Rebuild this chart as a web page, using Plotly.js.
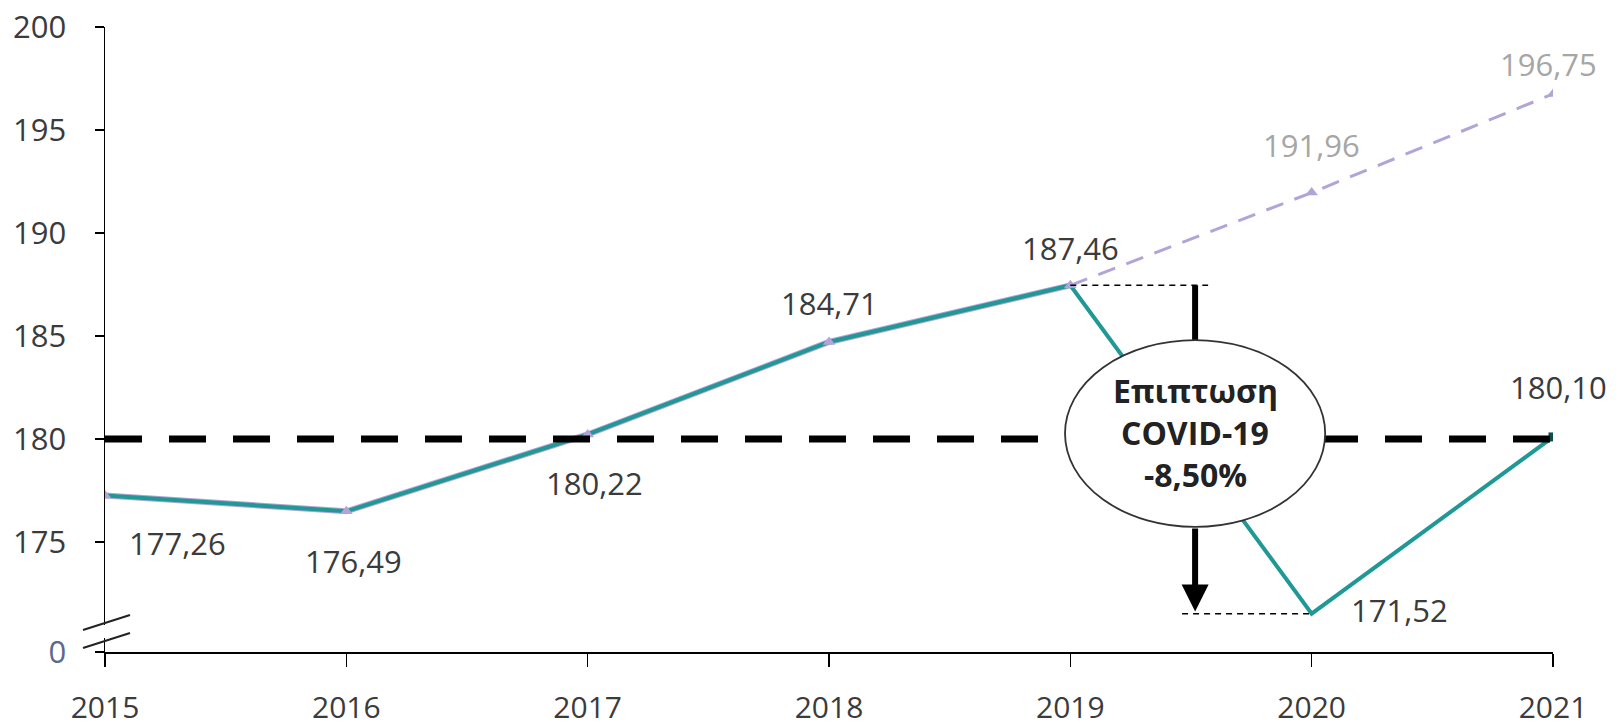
<!DOCTYPE html>
<html><head><meta charset="utf-8">
<script src="https://cdn.plot.ly/plotly-3.0.1.min.js"></script>
<style>html,body{margin:0;padding:0;background:#fff}#chart{width:1623px;height:725px}</style>
</head><body><div id="chart"></div>
<script>
// ---- data ----
const years = [2015, 2016, 2017, 2018, 2019, 2020, 2021];
const actual = [177.26, 176.49, 180.22, 184.71, 187.46, 171.52, 180.10];
const trend = [177.26, 176.49, 180.22, 184.71, 187.46, 191.96, 196.75]; // pre-COVID trajectory
const referenceLevel = 180;
const yTickVals = [175, 180, 185, 190, 195, 200];
const yTickText = ['175', '180', '185', '190', '195', '200'];
const axisBottom = 169.66;           // axis break: bottom of axis shown as "0"
const axisBottomLabel = '0';
const impactLines = ['Επιπτωση', 'COVID-19', '-8,50%'];
const impactFrom = 187.46, impactTo = 171.52;

// ---- styles ----
const TEAL = '#1f9896', LAV = '#b3a4d8', TXT = '#3b3b3b', GREY = '#a6a6a6';
const FONT = 'Open Sans, Noto Sans, sans-serif';
const fmt = v => v.toFixed(2).replace('.', ',');
// label offsets (px) for actual and trend labels
const actualShift = [[72, -48], [7, -50], [7, -49], [0, 39], [0, 37], [88, 4], [5, 50]];
const trendShift = {5: [0, 48], 6: [-5, 30]};

const traces = [
  {x: years.slice(0, 5), y: trend.slice(0, 5), mode: 'lines', line: {color: LAV, width: 6}, hoverinfo: 'skip'},
  {x: years.slice(4), y: trend.slice(4), mode: 'lines', line: {color: LAV, width: 3, dash: '18px,12px'}, hoverinfo: 'skip'},
  {x: years, y: actual, mode: 'lines', line: {color: TEAL, width: 4}},
  {x: years, y: trend, mode: 'markers',
   marker: {symbol: 'triangle-up', size: 11, color: LAV}},
  {x: [years[6]], y: [actual[6]], mode: 'markers', marker: {symbol: 'square', size: 9, color: '#0e4e4c'}}
];

const annotations = [];
years.forEach((yr, i) => {
  annotations.push({x: yr, y: actual[i], text: fmt(actual[i]), showarrow: false,
    xshift: actualShift[i][0], yshift: actualShift[i][1],
    font: {family: FONT, size: 31, color: TXT}});
});
Object.keys(trendShift).forEach(k => {
  const i = +k;
  annotations.push({x: years[i], y: trend[i], text: fmt(trend[i]), showarrow: false,
    xshift: trendShift[k][0], yshift: trendShift[k][1],
    font: {family: FONT, size: 31, color: GREY}});
});
const midX = 2019.517;
const ellY0 = 175.73, ellY1 = 184.8;
const ellYc = (ellY0 + ellY1) / 2;
impactLines.forEach((t, i) => {
  annotations.push({x: midX, y: ellYc, text: '<b>' + t + '</b>', showarrow: false,
    yshift: 43 - i * 42, font: {family: FONT, size: 32, color: '#222'}});
});
annotations.push({x: midX, y: impactTo + 0.1, ax: midX, ay: ellY0, axref: 'x', ayref: 'y',
  showarrow: true, arrowhead: 2, arrowsize: 0.9, arrowwidth: 6, arrowcolor: '#000', standoff: 0, text: ''});

const brk = {xref: 'paper', yref: 'paper', xsizemode: 'pixel', ysizemode: 'pixel', xanchor: 0, yanchor: 0, layer: 'above'};
const shapes = [
  {type: 'line', xref: 'x', yref: 'y', x0: years[0], x1: years[6], y0: referenceLevel, y1: referenceLevel,
   line: {color: '#000', width: 7, dash: '37px,27px'}, layer: 'above'},
  {type: 'line', xref: 'x', yref: 'y', x0: 2019, x1: 2019.571, y0: impactFrom, y1: impactFrom,
   line: {color: '#000', width: 1.5, dash: '6px,5px'}, layer: 'above'},
  {type: 'line', xref: 'x', yref: 'y', x0: 2019.463, x1: 2020, y0: impactTo, y1: impactTo,
   line: {color: '#000', width: 1.5, dash: '6px,5px'}, layer: 'above'},
  {type: 'line', xref: 'x', yref: 'y', x0: midX, x1: midX, y0: impactFrom, y1: ellY1,
   line: {color: '#000', width: 6}, layer: 'above'},
  {type: 'circle', xref: 'x', yref: 'y', x0: 2018.978, x1: 2020.056, y0: ellY0, y1: ellY1,
   fillcolor: '#fff', line: {color: '#333', width: 1.8}, layer: 'above'},
  // axis break marks
  Object.assign({type: 'line', x0: 0, x1: 0, y0: 14, y1: 27, line: {color: '#fff', width: 5}}, brk),
  Object.assign({type: 'line', x0: -22, x1: 25, y0: 22, y1: 37, line: {color: '#222', width: 2}}, brk),
  Object.assign({type: 'line', x0: -22, x1: 25, y0: 4, y1: 19, line: {color: '#222', width: 2}}, brk)
];

const layout = {
  width: 1623, height: 725,
  margin: {l: 105, r: 70, t: 27, b: 73},
  paper_bgcolor: '#fff', plot_bgcolor: '#fff',
  showlegend: false,
  font: {family: FONT, color: TXT},
  xaxis: {range: [years[0], years[6]], tickvals: years, ticktext: years.map(String),
    showgrid: false, zeroline: false, showline: true, linecolor: '#000', linewidth: 1.5,
    ticks: 'outside', ticklen: 13, tickwidth: 1.5, tickcolor: '#000', ticklabelstandoff: 15,
    tickfont: {family: FONT, size: 30, color: TXT}},
  yaxis: {range: [axisBottom, 200], tickvals: [axisBottom].concat(yTickVals),
    ticktext: ['<span style="color:#5a6890">' + axisBottomLabel + '</span>'].concat(yTickText),
    showgrid: false, zeroline: false, showline: true, linecolor: '#000', linewidth: 1.5,
    ticks: 'outside', ticklen: 9, tickwidth: 1.5, tickcolor: '#000', ticklabelstandoff: 22,
    tickfont: {family: FONT, size: 31, color: TXT}},
  shapes: shapes,
  annotations: annotations
};

Plotly.newPlot('chart', traces, layout, {displayModeBar: false, staticPlot: true});
</script>
</body></html>
